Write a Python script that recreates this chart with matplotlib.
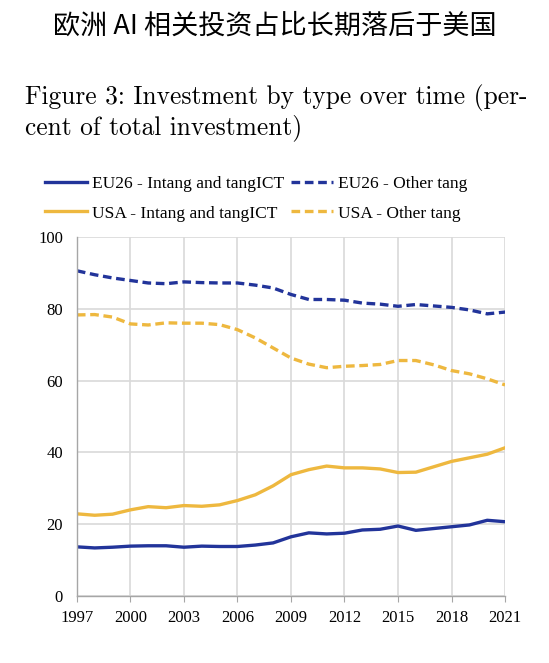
import matplotlib
matplotlib.use("Agg")
import matplotlib.pyplot as plt
from matplotlib.lines import Line2D

years = list(range(1997, 2022))
eu_intang = [13.7, 13.4, 13.6, 13.9, 14.0, 14.0, 13.6, 13.9, 13.8, 13.8, 14.2, 14.8, 16.5,
             17.6, 17.3, 17.5, 18.4, 18.6, 19.5, 18.3, 18.8, 19.3, 19.8, 21.1, 20.7]
usa_intang = [22.9, 22.5, 22.8, 24.0, 24.9, 24.6, 25.2, 25.0, 25.4, 26.6, 28.2, 30.7, 33.8,
              35.2, 36.2, 35.7, 35.7, 35.4, 34.4, 34.5, 36.0, 37.5, 38.5, 39.5, 41.3]
eu_other = [90.6, 89.5, 88.6, 87.9, 87.2, 87.0, 87.5, 87.3, 87.2, 87.2, 86.6, 85.8, 84.0,
            82.6, 82.6, 82.4, 81.6, 81.3, 80.7, 81.2, 80.8, 80.4, 79.7, 78.6, 79.1]
usa_other = [78.3, 78.4, 77.7, 75.8, 75.5, 76.1, 76.0, 76.0, 75.6, 74.2, 71.9, 69.1, 66.3,
             64.6, 63.6, 64.0, 64.2, 64.5, 65.6, 65.6, 64.4, 62.8, 61.9, 60.5, 58.8]
labels = ["EU26 - Intang and tangICT", "EU26 - Other tang",
          "USA - Intang and tangICT", "USA - Other tang"]
xticks = list(range(1997, 2022, 3))
yticks = [0, 20, 40, 60, 80, 100]

blue = "#22349a"
gold = "#eeb83f"
serif = ["Liberation Serif", "DejaVu Serif"]

fig = plt.figure(figsize=(5.49, 6.63), dpi=100)
fig.text(0.5, 0.961, "欧洲 AI 相关投资占比长期落后于美国", ha="center", va="center",
         fontsize=19.5, family=["Noto Sans CJK SC", "DejaVu Sans"], color="black")
fig.text(0.045, 0.830, "Figure 3: Investment by type over time (per-\ncent of total investment)",
         ha="left", va="center", fontsize=18.3, family=["cmr10", "DejaVu Serif"],
         linespacing=1.2)

ax = fig.add_axes([0.140, 0.101, 0.780, 0.5415])
dash = (2.6, 1.4)
lw = 2.4
ax.plot(years, eu_intang, color=blue, lw=lw, solid_capstyle="round")
ax.plot(years, eu_other, color=blue, lw=lw, dashes=dash)
ax.plot(years, usa_intang, color=gold, lw=lw, solid_capstyle="round")
ax.plot(years, usa_other, color=gold, lw=lw, dashes=dash)

ax.set_xlim(1997, 2021)
ax.set_ylim(0, 100)
ax.set_xticks(xticks)
ax.set_yticks(yticks)
ax.grid(True, color="#d9d9d9", lw=1.2)
ax.set_axisbelow(True)
for s in ["top", "right"]:
    ax.spines[s].set_visible(False)
for s in ["left", "bottom"]:
    ax.spines[s].set_color("#a6a6a6")
    ax.spines[s].set_linewidth(1.0)
ax.tick_params(axis="y", length=0, pad=10, labelsize=12)
ax.tick_params(axis="x", length=4, color="#a6a6a6", pad=6, labelsize=12)
for lab in ax.get_xticklabels() + ax.get_yticklabels():
    lab.set_family(serif)

h_eu_i = Line2D([], [], color=blue, lw=lw)
h_eu_o = Line2D([], [], color=blue, lw=lw, dashes=dash)
h_us_i = Line2D([], [], color=gold, lw=lw)
h_us_o = Line2D([], [], color=gold, lw=lw, dashes=dash)
# column-major fill -> order so rows read EU26 / USA
handles = [h_eu_i, h_us_i, h_eu_o, h_us_o]
leg_labels = [labels[0], labels[2], labels[1], labels[3]]
fig.legend(handles, leg_labels, ncol=2, loc="center", bbox_to_anchor=(0.467, 0.700),
           frameon=False, prop={"family": serif, "size": 12.5}, handlelength=2.4,
           handletextpad=0.3, columnspacing=0.4, labelspacing=0.75)

fig.savefig("out.png", dpi=100)
